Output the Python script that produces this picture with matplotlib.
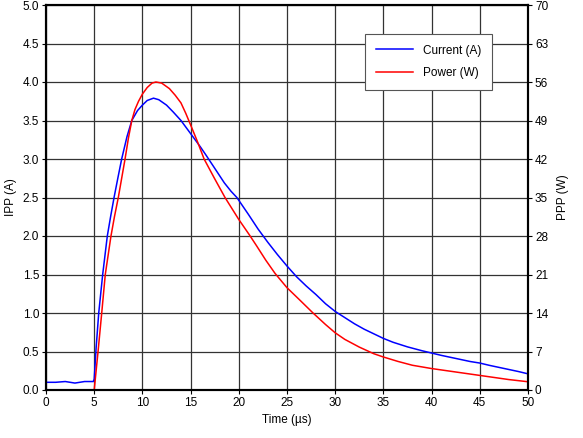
import numpy as np
import matplotlib
matplotlib.use('Agg')
import matplotlib.pyplot as plt
from matplotlib.ticker import FormatStrFormatter

plt.rcParams['font.family'] = ['Liberation Sans', 'DejaVu Sans']

# Current waveform (A)
time_current = [0, 1, 2, 3, 4, 4.9, 5.0, 5.2, 5.47, 5.88, 6.36, 6.7, 7.06, 7.45, 7.85,
                8.4, 8.9, 9.5, 10, 10.5, 11.15, 11.7, 12.5, 13.2, 14, 15, 16, 16.6,
                17.5, 18.5, 19.2, 19.8, 21, 22, 23, 24, 25, 26, 27,
                28, 29, 30, 31, 32, 33, 34, 35, 36, 37.5, 39, 40, 41, 42.5,
                44, 45, 46, 47.5, 49, 50]
current = [0.10, 0.10, 0.11, 0.09, 0.11, 0.11, 0.14, 0.55, 1.0, 1.5, 2.0, 2.25, 2.5, 2.75, 3.0,
           3.29, 3.5, 3.63, 3.70, 3.76, 3.79, 3.77, 3.70, 3.61, 3.50, 3.33, 3.16, 3.05,
           2.88, 2.69, 2.58, 2.5, 2.28, 2.09, 1.92, 1.76, 1.61, 1.47, 1.35,
           1.24, 1.12, 1.02, 0.94, 0.86, 0.79, 0.73, 0.67, 0.62, 0.56, 0.51, 0.48, 0.45, 0.41,
           0.37, 0.35, 0.32, 0.28, 0.24, 0.21]

# Power waveform (W)
time_power = [0, 2, 4, 5.0, 5.4, 5.78, 6.15, 6.74, 7.1, 7.5, 7.85, 8.2, 8.55, 8.9, 9.23,
              9.6, 10, 10.5, 11, 11.4, 12, 12.8, 13.4, 14, 14.5, 15, 15.7, 16.4, 17.5,
              18.57, 20, 21.1, 21.85, 22.8, 23.76, 25, 26.3, 27.7, 29, 30, 31, 32.5,
              34, 35, 36.5, 38, 40, 42, 44, 46, 48, 50]
power = [0, 0, 0, 0, 7, 14, 21, 28, 31.5, 35, 38.5, 42, 45.8, 49, 51.0,
         52.5, 53.8, 55.0, 55.8, 56, 55.8, 54.8, 53.6, 52.2, 50.3, 48.2, 45.2, 42, 38.4,
         35, 31.0, 28.2, 26.2, 23.6, 21.2, 18.6, 16.4, 14, 11.9, 10.4, 9.2, 7.8,
         6.6, 6.0, 5.2, 4.5, 3.9, 3.4, 2.9, 2.4, 1.9, 1.5]

x_ticks = np.arange(0, 51, 5)
left_ticks = np.arange(0, 5.01, 0.5)
right_ticks = np.arange(0, 71, 7)

BLUE = '#0000FF'
RED = '#FF0000'
GRID = '#333333'

fig = plt.figure(figsize=(5.83, 4.38), dpi=100)
ax = fig.add_axes([46 / 583, 48 / 438, 482 / 583, 385 / 438])
ax2 = ax.twinx()

l1, = ax.plot(time_current, current, color=BLUE, lw=1.1, label='Current (A)')
l2, = ax2.plot(time_power, power, color=RED, lw=1.1, label='Power (W)')

ax.set_xlim(0, 50)
ax.set_ylim(0, 5)
ax2.set_ylim(0, 70)
ax.set_xticks(x_ticks)
ax.set_yticks(left_ticks)
ax2.set_yticks(right_ticks)
ax.yaxis.set_major_formatter(FormatStrFormatter('%.1f'))

ax.grid(True, color=GRID, lw=0.9)
ax.set_axisbelow(True)

for a in (ax, ax2):
    for s in a.spines.values():
        s.set_linewidth(1.5)
        s.set_color('black')
    a.tick_params(direction='out', length=3, width=0.8, labelsize=8.5, colors='black', pad=2)

ax.set_xlabel('Time (\u00b5s)', fontsize=8.5, labelpad=4)
ax.set_ylabel('IPP (A)', fontsize=8.5, labelpad=4)
ax2.set_ylabel('PPP (W)', fontsize=8.5, labelpad=6)

leg = ax2.legend(handles=[l1, l2], loc='upper right', bbox_to_anchor=(0.925, 0.925),
                 borderaxespad=0, fontsize=8.5, fancybox=False, framealpha=1,
                 edgecolor='#555555', handlelength=3.2, borderpad=0.9, labelspacing=0.9)
leg.get_frame().set_linewidth(0.8)

fig.savefig('out.png', dpi=100)
